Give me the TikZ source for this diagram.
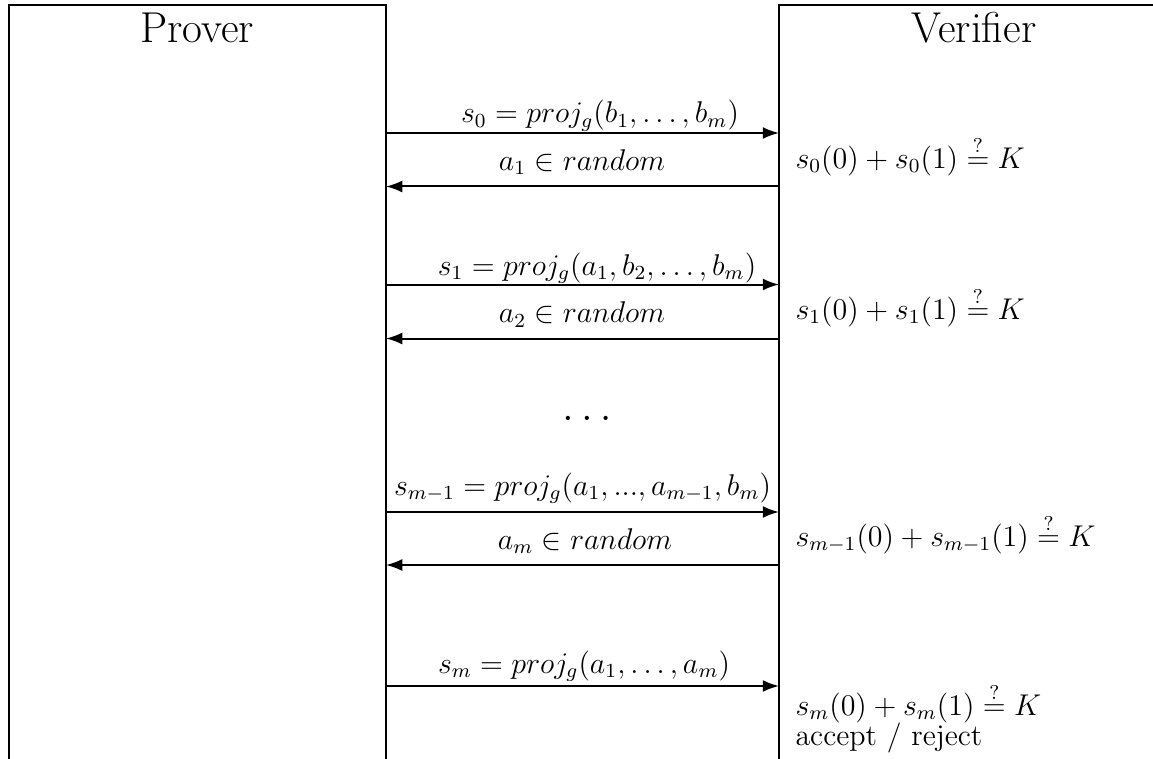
\documentclass[tikz,border=0pt]{standalone}
\usetikzlibrary{arrows.meta}
\begin{document}
\begin{tikzpicture}[x=0.4pt,y=-0.4pt,
  party/.style={line width=0.8pt},
  msg/.style={line width=0.8pt,-{Latex[length=6.5pt,width=4.8pt]}},
  lbl/.style={anchor=base,inner sep=0pt,font=\large},
  chk/.style={anchor=base west,inner sep=0pt,font=\large,align=left},
  title/.style={anchor=base,inner sep=0pt,font=\LARGE}]
\useasboundingbox (0,0) rectangle (1153,759);
% party boxes
\draw[party] (8.5,765) -- (8.5,5) -- (386,5) -- (386,765);
\draw[party] (779,765) -- (779,5) -- (1165,5);
\node[title] (prover) at (197,43) {Prover};
\node[title] (verifier) at (974,43) {Verifier};
% endpoints
\foreach \i/\y in {1/133,2/186.5,3/284.5,4/338.5,5/512,6/565,7/686}{
  \coordinate (P\i) at (386,\y);
  \coordinate (V\i) at (779,\y);
}
\draw[msg] (P1) -- (V1);
\draw[msg] (V2) -- (P2);
\draw[msg] (P3) -- (V3);
\draw[msg] (V4) -- (P4);
\draw[msg] (P5) -- (V5);
\draw[msg] (V6) -- (P6);
\draw[msg] (P7) -- (V7);
% labels
\node[lbl] (l1) at (600,123) {$s_0 = proj_g(b_1,\ldots,b_m)$};
\node[lbl] (l2) at (582,170) {$a_1 \in random$};
\node[lbl] (l3) at (597,275) {$s_1 = proj_g(a_1,b_2,\ldots,b_m)$};
\node[lbl] (l4) at (582,322.5) {$a_2 \in random$};
\node[lbl,font=\LARGE] (dots) at (587,420) {$\ldots$};
\node[lbl] (l5) at (582.5,495) {$s_{m-1} = proj_g(a_1,...,a_{m-1},b_m)$};
\node[lbl] (l6) at (585,549) {$a_m \in random$};
\node[lbl] (l7) at (584,673) {$s_m = proj_g(a_1,\ldots,a_m)$};
% verifier checks
\node[chk] (c1) at (795,168) {$s_0(0) + s_0(1) \stackrel{?}{=} K$};
\node[chk] (c2) at (795,319) {$s_1(0) + s_1(1) \stackrel{?}{=} K$};
\node[chk] (c3) at (795,546) {$s_{m-1}(0) + s_{m-1}(1) \stackrel{?}{=} K$};
\node[chk] (c4) at (795,715) {$s_m(0) + s_m(1) \stackrel{?}{=} K$};
\node[chk] (c5) at (795,745.5) {accept / reject};
\end{tikzpicture}
\end{document}
